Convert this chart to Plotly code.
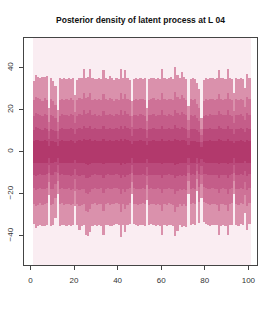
import plotly.graph_objects as go

# time index (column start); each column spans [t, t+1]
t = list(range(1, 101))

# full posterior range (extends beyond the frame)
full_hi = [60.0] * 100
full_lo = [-60.0] * 100

# outermost interval
b1u = [33.8,36.5,35.5,35.2,35.6,35.8,36.0,21.0,35.0,33.5,31.5,20.0,35.0,34.5,35.0,34.8,35.2,34.6,35.0,27.0,
       34.0,35.2,35.0,39.5,35.0,35.5,39.5,35.0,34.8,34.5,35.0,34.6,39.0,35.0,34.5,36.0,35.2,34.0,35.0,34.5,
       39.5,35.0,39.0,35.2,34.0,24.0,34.8,35.0,34.5,35.3,34.8,35.0,21.0,34.6,35.0,35.2,34.5,35.0,34.8,39.5,
       35.0,34.6,35.0,35.4,34.8,40.2,36.5,35.0,37.8,35.5,34.6,22.0,34.8,35.0,34.5,33.0,30.0,16.0,34.0,35.0,
       34.6,35.0,35.2,34.8,35.0,39.0,35.2,35.0,34.6,39.6,35.0,34.8,28.0,35.0,34.6,35.2,34.8,30.5,37.0,35.0]
b1l = [-34.5,-36.5,-35.5,-35.0,-35.5,-35.2,-35.0,-20.5,-35.5,-35.0,-31.5,-20.0,-35.2,-35.0,-34.8,-35.4,-35.0,-35.2,-35.0,-26.0,
       -35.0,-37.0,-35.5,-35.0,-39.8,-40.3,-38.0,-35.2,-35.0,-35.4,-35.0,-35.2,-39.5,-35.0,-34.8,-35.5,-35.2,-35.0,-34.5,-35.0,
       -40.5,-35.0,-38.0,-35.0,-34.5,-20.0,-34.6,-35.0,-35.4,-35.0,-34.8,-35.2,-23.0,-35.0,-34.6,-35.0,-35.3,-35.0,-35.5,-39.5,
       -35.0,-35.2,-34.8,-35.0,-35.4,-40.3,-37.5,-35.0,-36.0,-35.2,-36.0,-20.0,-35.0,-34.6,-35.0,-18.5,-34.0,-22.0,-33.5,-34.5,
       -35.0,-35.2,-35.0,-34.8,-35.0,-39.5,-35.2,-35.0,-35.4,-39.8,-35.0,-34.8,-20.0,-35.0,-35.2,-34.6,-35.0,-29.0,-37.0,-34.5]

b2u = [24.5,26.0,25.5,25.0,24.0,25.5,24.8,14.0,25.0,24.0,22.5,14.0,24.5,25.2,24.8,25.0,24.6,25.4,24.8,19.0,
       24.5,25.6,25.0,28.0,25.5,26.0,28.0,24.8,25.2,24.6,25.0,24.5,27.5,25.0,24.8,25.6,25.0,24.4,25.2,24.8,
       28.0,25.0,27.5,25.2,24.5,17.0,24.8,25.0,24.5,25.3,25.0,24.6,14.5,24.8,25.0,25.4,24.6,25.0,24.8,28.0,
       25.0,24.5,25.2,25.0,24.6,28.5,26.0,25.0,27.0,25.4,24.8,15.0,25.0,24.6,25.0,23.0,21.0,11.0,24.0,25.0,
       24.6,25.2,25.0,24.8,25.0,27.5,25.2,24.8,25.0,28.0,25.0,24.6,19.5,25.0,24.8,25.2,24.6,21.5,26.0,25.0]
b2l = [-24.8,-25.8,-25.2,-24.6,-25.4,-25.0,-24.5,-14.5,-25.3,-25.0,-22.0,-14.0,-25.0,-24.6,-25.2,-25.0,-24.8,-25.5,-25.0,-18.5,
       -25.0,-26.0,-25.2,-25.0,-28.0,-28.5,-27.0,-25.0,-24.6,-25.2,-25.0,-24.8,-28.0,-25.0,-24.6,-25.3,-25.0,-24.8,-24.5,-25.0,
       -28.5,-25.0,-27.0,-25.2,-24.6,-14.5,-24.8,-25.0,-25.4,-25.0,-24.6,-25.0,-16.0,-25.2,-24.8,-25.0,-25.3,-24.8,-25.4,-28.0,
       -25.0,-25.2,-24.6,-25.0,-25.4,-28.5,-26.5,-25.0,-25.6,-25.0,-25.6,-14.0,-25.0,-24.6,-25.0,-13.0,-24.0,-15.5,-23.8,-24.5,
       -25.0,-25.2,-24.8,-25.0,-25.2,-28.0,-25.0,-24.8,-25.2,-28.2,-25.0,-24.6,-14.0,-25.0,-25.3,-24.6,-25.0,-20.5,-26.0,-24.5]

b3u = [17.0,18.5,18.0,17.5,17.0,18.0,17.4,10.0,17.6,17.0,16.0,10.0,17.2,17.8,17.4,17.6,17.2,17.8,17.4,13.5,
       17.2,18.0,17.6,19.8,18.0,18.4,19.8,17.4,17.8,17.2,17.6,17.2,19.5,17.6,17.4,18.0,17.6,17.2,17.8,17.4,
       19.8,17.6,19.4,17.8,17.2,12.0,17.4,17.6,17.2,17.8,17.6,17.2,10.2,17.4,17.6,17.9,17.2,17.6,17.4,19.8,
       17.6,17.2,17.8,17.6,17.2,20.0,18.4,17.6,19.0,17.9,17.4,10.6,17.6,17.2,17.6,16.2,14.8,7.8,17.0,17.6,
       17.2,17.8,17.6,17.4,17.6,19.4,17.8,17.4,17.6,19.8,17.6,17.2,13.8,17.6,17.4,17.8,17.2,15.2,18.4,17.6]
b3l = [-17.4,-18.2,-17.8,-17.2,-17.9,-17.6,-17.2,-10.2,-17.8,-17.6,-15.5,-9.9,-17.6,-17.2,-17.8,-17.6,-17.4,-18.0,-17.6,-13.0,
       -17.6,-18.3,-17.8,-17.6,-19.8,-20.0,-19.0,-17.6,-17.2,-17.8,-17.6,-17.4,-19.8,-17.6,-17.2,-17.8,-17.6,-17.4,-17.2,-17.6,
       -20.0,-17.6,-19.0,-17.8,-17.2,-10.2,-17.4,-17.6,-17.9,-17.6,-17.2,-17.6,-11.3,-17.8,-17.4,-17.6,-17.8,-17.4,-17.9,-19.8,
       -17.6,-17.8,-17.2,-17.6,-17.9,-20.0,-18.7,-17.6,-18.0,-17.6,-18.0,-9.9,-17.6,-17.2,-17.6,-9.2,-16.9,-10.9,-16.8,-17.2,
       -17.6,-17.8,-17.4,-17.6,-17.8,-19.8,-17.6,-17.4,-17.8,-19.9,-17.6,-17.2,-9.9,-17.6,-17.8,-17.2,-17.6,-14.4,-18.3,-17.2]

b4u = [10.6,11.6,11.3,11.0,10.6,11.3,10.9,6.3,11.0,10.6,10.0,6.3,10.8,11.2,10.9,11.0,10.8,11.2,10.9,8.4,
       10.8,11.3,11.0,12.4,11.3,11.5,12.4,10.9,11.2,10.8,11.0,10.8,12.2,11.0,10.9,11.3,11.0,10.8,11.2,10.9,
       12.4,11.0,12.2,11.2,10.8,7.5,10.9,11.0,10.8,11.2,11.0,10.8,6.4,10.9,11.0,11.2,10.8,11.0,10.9,12.4,
       11.0,10.8,11.2,11.0,10.8,12.6,11.5,11.0,11.9,11.2,10.9,6.6,11.0,10.8,11.0,10.2,9.3,4.9,10.7,11.0,
       10.8,11.2,11.0,10.9,11.0,12.2,11.2,10.9,11.0,12.4,11.0,10.8,8.7,11.0,10.9,11.2,10.8,9.5,11.5,11.0]
b4l = [-10.9,-11.4,-11.2,-10.8,-11.2,-11.0,-10.8,-6.4,-11.2,-11.0,-9.7,-6.2,-11.0,-10.8,-11.2,-11.0,-10.9,-11.3,-11.0,-8.2,
       -11.0,-11.5,-11.2,-11.0,-12.4,-12.6,-11.9,-11.0,-10.8,-11.2,-11.0,-10.9,-12.4,-11.0,-10.8,-11.2,-11.0,-10.9,-10.8,-11.0,
       -12.6,-11.0,-11.9,-11.2,-10.8,-6.4,-10.9,-11.0,-11.2,-11.0,-10.8,-11.0,-7.1,-11.2,-10.9,-11.0,-11.2,-10.9,-11.2,-12.4,
       -11.0,-11.2,-10.8,-11.0,-11.2,-12.6,-11.7,-11.0,-11.3,-11.0,-11.3,-6.2,-11.0,-10.8,-11.0,-5.8,-10.6,-6.8,-10.5,-10.8,
       -11.0,-11.2,-10.9,-11.0,-11.2,-12.4,-11.0,-10.9,-11.2,-12.5,-11.0,-10.8,-6.2,-11.0,-11.2,-10.8,-11.0,-9.0,-11.5,-10.8]

b5u = [5.0,5.6,5.4,5.2,5.0,5.4,5.2,3.0,5.3,5.0,4.8,3.0,5.2,5.4,5.2,5.3,5.2,5.4,5.2,4.0,
       5.2,5.4,5.3,6.0,5.4,5.5,6.0,5.2,5.4,5.2,5.3,5.2,5.9,5.3,5.2,5.4,5.3,5.2,5.4,5.2,
       6.0,5.3,5.9,5.4,5.2,3.6,5.2,5.3,5.2,5.4,5.3,5.2,3.1,5.2,5.3,5.4,5.2,5.3,5.2,6.0,
       5.3,5.2,5.4,5.3,5.2,6.1,5.5,5.3,5.7,5.4,5.2,3.2,5.3,5.2,5.3,4.9,4.5,2.4,5.1,5.3,
       5.2,5.4,5.3,5.2,5.3,5.9,5.4,5.2,5.3,6.0,5.3,5.2,4.2,5.3,5.2,5.4,5.2,4.6,5.5,5.3]
b5l = [-5.2,-5.5,-5.4,-5.2,-5.4,-5.3,-5.2,-3.1,-5.4,-5.3,-4.7,-3.0,-5.3,-5.2,-5.4,-5.3,-5.2,-5.4,-5.3,-3.9,
       -5.3,-5.5,-5.4,-5.3,-6.0,-6.1,-5.7,-5.3,-5.2,-5.4,-5.3,-5.2,-6.0,-5.3,-5.2,-5.4,-5.3,-5.2,-5.2,-5.3,
       -6.1,-5.3,-5.7,-5.4,-5.2,-3.1,-5.2,-5.3,-5.4,-5.3,-5.2,-5.3,-3.4,-5.4,-5.2,-5.3,-5.4,-5.2,-5.4,-6.0,
       -5.3,-5.4,-5.2,-5.3,-5.4,-6.1,-5.6,-5.3,-5.4,-5.3,-5.4,-3.0,-5.3,-5.2,-5.3,-2.8,-5.1,-3.3,-5.0,-5.2,
       -5.3,-5.4,-5.2,-5.3,-5.4,-6.0,-5.3,-5.2,-5.4,-6.0,-5.3,-5.2,-3.0,-5.3,-5.4,-5.2,-5.3,-4.4,-5.5,-5.2]

x_ticks = [0, 20, 40, 60, 80, 100]
y_ticks = [-40, -20, 0, 20, 40]

bands = [
    (full_lo, full_hi, "#faedf2"),
    (b1l, b1u, "#da91ac"),
    (b2l, b2u, "#ce7297"),
    (b3l, b3u, "#c45d89"),
    (b4l, b4u, "#ba4a7b"),
    (b5l, b5u, "#b2396c"),
]

fig = go.Figure()
for lo, hi, col in bands:
    fig.add_trace(go.Bar(
        x=t, base=lo, y=[h - l for l, h in zip(lo, hi)],
        width=1, offset=0,
        marker=dict(color=col, line=dict(width=0)),
        hoverinfo="skip", showlegend=False,
    ))

axis_common = dict(
    showgrid=False, zeroline=False, automargin=False,
    showline=True, linecolor="#444", linewidth=1, mirror=True,
    ticks="outside", ticklen=4, tickcolor="#444", tickwidth=1,
    tickfont=dict(family="Liberation Sans, Arial, sans-serif", size=8, color="#333"),
)

fig.update_layout(
    width=275, height=314,
    margin=dict(l=24, r=18, t=38, b=49, autoexpand=False),
    paper_bgcolor="white", plot_bgcolor="white",
    barmode="overlay", bargap=0,
    title=dict(
        text="<b>Posterior density of latent process at L 04</b>",
        x=0.5, xref="paper", xanchor="center",
        y=1 - 20 / 314, yref="container", yanchor="middle",
        font=dict(family="Liberation Sans, Arial, sans-serif", size=8.5, color="#111"),
    ),
    xaxis=dict(range=[-2.96, 103.96], tickvals=x_ticks, ticklabelstandoff=3, **axis_common),
    yaxis=dict(range=[-53.9, 54.2], tickvals=y_ticks, tickangle=-90, ticklabelstandoff=3, **axis_common),
)

fig.write_html(
    "out.html",
    config={"displayModeBar": False, "staticPlot": True},
    post_script="document.body.style.margin='0';document.body.style.overflow='hidden';",
)
